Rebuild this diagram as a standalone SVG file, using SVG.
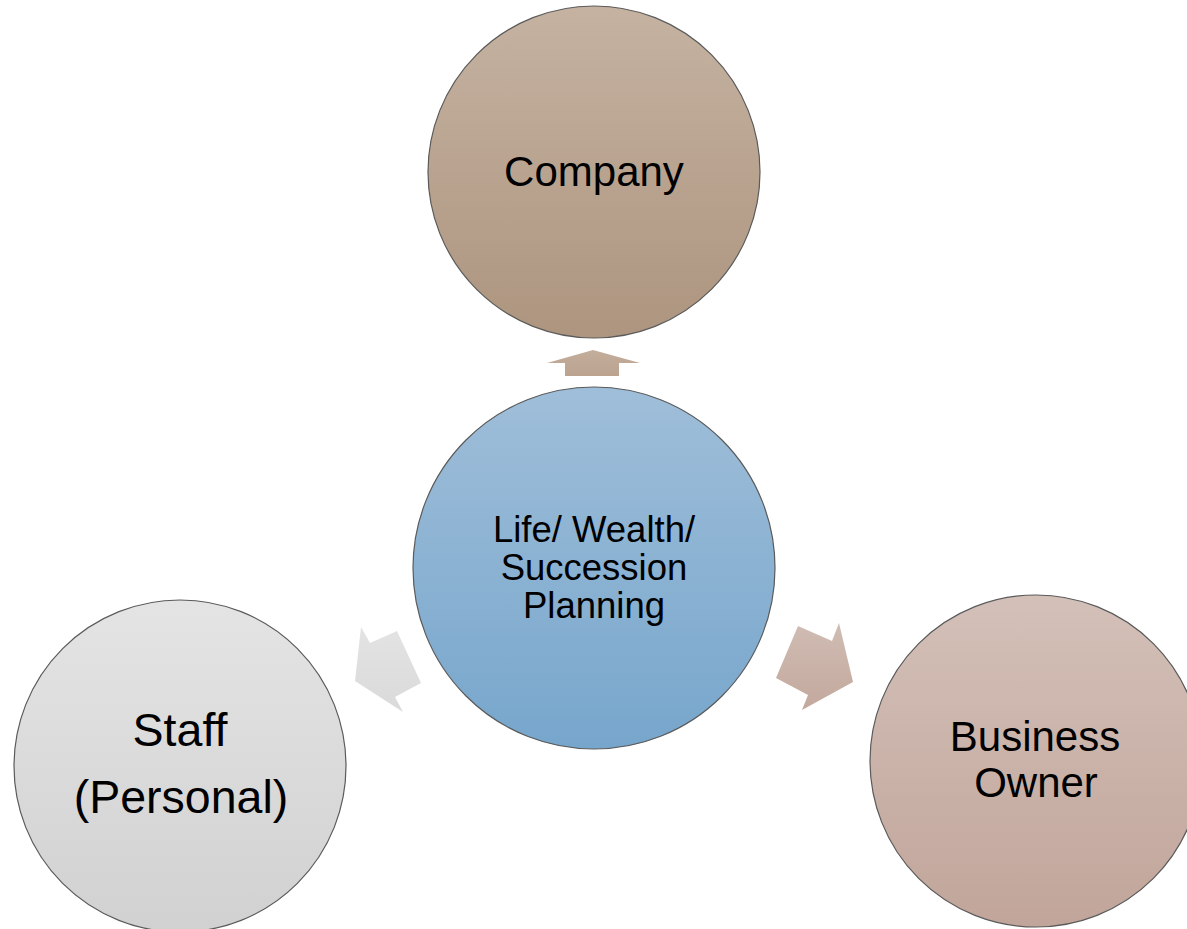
<svg xmlns="http://www.w3.org/2000/svg" width="1187" height="929" viewBox="0 0 1187 929">
<style>
.node{stroke:#5a5a5a;stroke-width:1.2}
.lbl{font-family:"Liberation Sans",Arial,sans-serif;fill:#000;text-anchor:middle}
</style>
<defs>
<linearGradient id="gCo" x1="0" y1="0" x2="0" y2="1"><stop offset="0" stop-color="#c5b2a1"/><stop offset="1" stop-color="#ad957f"/></linearGradient>
<linearGradient id="gCe" x1="0" y1="0" x2="0" y2="1"><stop offset="0" stop-color="#9fbed9"/><stop offset="1" stop-color="#77a6cc"/></linearGradient>
<linearGradient id="gSt" x1="0" y1="0" x2="0" y2="1"><stop offset="0" stop-color="#e4e4e4"/><stop offset="1" stop-color="#d1d1d1"/></linearGradient>
<linearGradient id="gBo" x1="0" y1="0" x2="0" y2="1"><stop offset="0" stop-color="#d3c0b8"/><stop offset="1" stop-color="#c1a59a"/></linearGradient>
<linearGradient id="gAu" x1="0" y1="0" x2="0" y2="1"><stop offset="0" stop-color="#c3ad9b"/><stop offset="1" stop-color="#bba390"/></linearGradient>
<linearGradient id="gAs" x1="0" y1="0" x2="0" y2="1"><stop offset="0" stop-color="#e3e3e3"/><stop offset="1" stop-color="#dadada"/></linearGradient>
<linearGradient id="gAb" x1="0" y1="0" x2="0" y2="1"><stop offset="0" stop-color="#d0bcb3"/><stop offset="1" stop-color="#c3a89d"/></linearGradient>
</defs>
<rect width="1187" height="929" fill="#ffffff"/>
<g id="connectors">
<polygon points="593,350 640,363 619,363 619,376 565,376 565,363 547,363" fill="url(#gAu)"/>
<polygon points="361,627 370,643 397,631 421,683 395,697 403,712 355,681" fill="url(#gAs)"/>
<polygon points="798,626 832,641 839,623 853,682 802,710 808,695 776,678" fill="url(#gAb)"/>
</g>
<g id="company">
<circle class="node" cx="594" cy="172" r="166" fill="url(#gCo)"/>
<text class="lbl" x="594" y="186" font-size="42">Company</text>
</g>
<g id="center">
<circle class="node" cx="594" cy="568" r="181" fill="url(#gCe)"/>
<text class="lbl" x="594" y="542" font-size="36.5">Life/ Wealth/</text>
<text class="lbl" x="594" y="580" font-size="36.5">Succession</text>
<text class="lbl" x="594" y="618" font-size="36.5">Planning</text>
</g>
<g id="staff">
<circle class="node" cx="180" cy="766" r="166" fill="url(#gSt)"/>
<text class="lbl" x="180" y="746" font-size="46.5">Staff</text>
<text class="lbl" x="181" y="813" font-size="46.5">(Personal)</text>
</g>
<g id="owner">
<circle class="node" cx="1036" cy="761" r="166" fill="url(#gBo)"/>
<text class="lbl" x="1035" y="751" font-size="42">Business</text>
<text class="lbl" x="1036" y="797" font-size="42">Owner</text>
</g>
</svg>
